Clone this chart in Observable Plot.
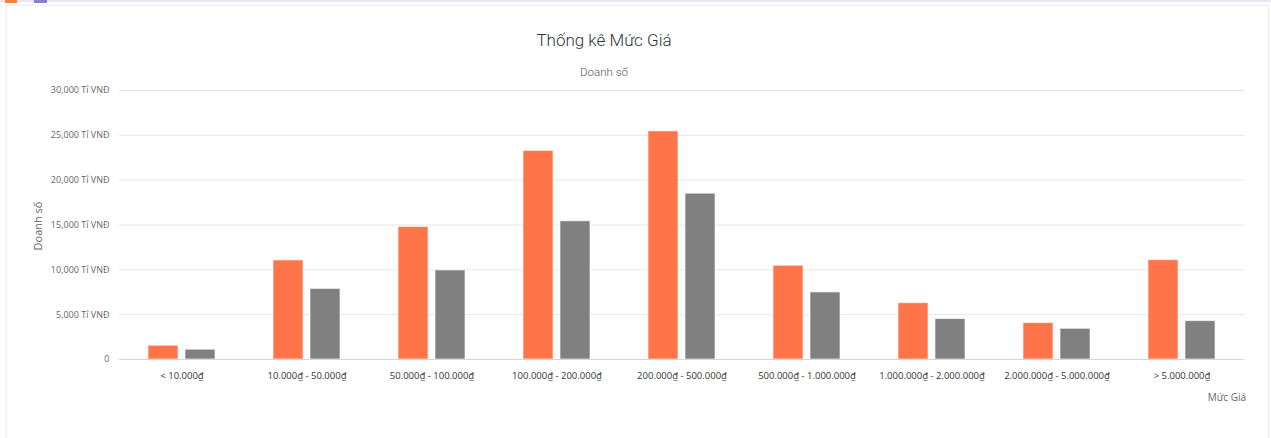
<!DOCTYPE html>
<html>
<head>
<meta charset="utf-8">
<script src="https://cdn.jsdelivr.net/npm/d3@7"></script>
<script src="https://cdn.jsdelivr.net/npm/@observablehq/plot@0.6"></script>
<style>
  html, body { margin: 0; padding: 0; background: #fff; width: 1271px; height: 438px; overflow: hidden; font-family: "Open Sans", "Noto Sans", sans-serif; }
  #topline { position: absolute; left: 0; top: 0; width: 1271px; height: 2px; background: #e8e6f4; }
  #tab1 { position: absolute; left: 5px; top: 0; width: 12px; height: 3px; background: #f0843c; }
  #tab2 { position: absolute; left: 34px; top: 0; width: 13px; height: 3px; background: #8a7fd0; }
  #card { position: absolute; left: 6px; top: 5px; width: 1261px; height: 440px; border: 1px solid #eeeeee; box-shadow: 0 0 2px rgba(0,0,0,0.04); }
  #title { position: absolute; left: 404px; top: 30px; width: 400px; text-align: center; font-family: Roboto, "Liberation Sans", sans-serif; font-weight: 300; font-size: 17px; color: #333; }
  #subtitle { position: absolute; left: 404px; top: 65px; width: 400px; text-align: center; font-family: Roboto, "Liberation Sans", sans-serif; font-weight: 300; font-size: 11.5px; color: #555; }
  #ylab { position: absolute; left: 37px; top: 226px; transform: translate(-50%, -50%) rotate(-90deg); font-size: 11px; color: #666; white-space: nowrap; }
  #xlab { position: absolute; right: 25px; top: 390px; font-size: 10px; color: #666; }
  #chart { position: absolute; left: 0; top: 80px; }
</style>
</head>
<body>
<div id="topline"></div><div id="tab1"></div><div id="tab2"></div>
<div id="card"></div>
<div id="title">Thống kê Mức Giá</div>
<div id="subtitle">Doanh số</div>
<div id="ylab">Doanh số</div>
<div id="xlab">Mức Giá</div>
<div id="chart"></div>
<script>
const categories = [
  "< 10.000₫",
  "10.000₫ - 50.000₫",
  "50.000₫ - 100.000₫",
  "100.000₫ - 200.000₫",
  "200.000₫ - 500.000₫",
  "500.000₫ - 1.000.000₫",
  "1.000.000₫ - 2.000.000₫",
  "2.000.000₫ - 5.000.000₫",
  "> 5.000.000₫"
];
const seriesNames = ["Doanh số 1", "Doanh số 2"];
const seriesA = [1530, 11050, 14780, 23260, 25440, 10450, 6280, 4060, 11080];
const seriesB = [1090, 7870, 9930, 15410, 18490, 7480, 4510, 3420, 4280];
const seriesColors = ["#ff7549", "#808080"];
const yTicks = [0, 5000, 10000, 15000, 20000, 25000, 30000];

const data = [];
categories.forEach((c, i) => {
  data.push({category: c, series: seriesNames[0], value: seriesA[i]});
  data.push({category: c, series: seriesNames[1], value: seriesB[i]});
});

const fmt = d3.format(",");
const chart = Plot.plot({
  width: 1271,
  height: 330,
  marginLeft: 117,
  marginRight: 25,
  marginTop: 10,
  marginBottom: 51,
  style: {fontFamily: "'Open Sans', 'Noto Sans', sans-serif", fontSize: "9px", color: "#666", background: "transparent"},
  fx: {domain: categories, padding: 0, axis: "bottom", tickSize: 0, tickPadding: 13, label: null},
  x: {domain: seriesNames, paddingInner: 0.2, paddingOuter: 0.767, axis: null},
  y: {domain: [0, 30000], ticks: yTicks, tickFormat: d => d === 0 ? "0" : fmt(d) + " Tỉ VNĐ", tickSize: 0, tickPadding: 10, label: null},
  color: {domain: seriesNames, range: seriesColors},
  marks: [
    Plot.ruleY(yTicks.slice(1), {stroke: "#e6e6e6", strokeWidth: 1}),
    Plot.barY(data, {fx: "category", x: "series", y: "value", fill: "series", stroke: "#fff", strokeWidth: 1, strokeOpacity: 0.6}),
    Plot.ruleY([0], {stroke: "#ccd6eb", strokeWidth: 1})
  ]
});
document.getElementById("chart").appendChild(chart);
d3.select(chart).selectAll("g[aria-label^='fx-axis'] text").attr("fill", "#333").style("font-size", "9.5px");
</script>
</body>
</html>
